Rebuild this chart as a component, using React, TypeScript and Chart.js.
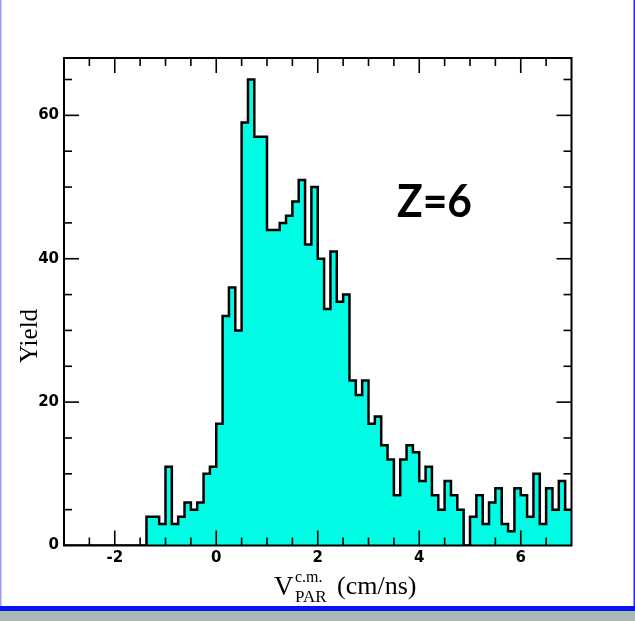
import React, { useEffect, useRef } from 'react';
import { Chart, registerables } from 'chart.js';

Chart.register(...registerables);

// Binning of the parallel c.m. velocity (cm/ns)
const binLow = -3;
const binHigh = 7;
const binWidth = 0.125;

// Counts per bin, V = -3 .. 7 in steps of 0.125
const yieldCounts = [
  0, 0, 0, 0, 0, 0, 0, 0, 0, 0, 0, 0, 0, // -3.000 .. -1.500
  4, 4, 3, 11, 3, 4, 6, 5, 6, 10, 11, // -1.375 .. -0.125
  17, 32, 36, 30, 59, 65, 57, 57, // 0.000 .. 0.875
  44, 44, 45, 46, 48, 51, 42, 50, // 1.000 .. 1.875
  40, 33, 41, 34, 35, 23, 21, 23, // 2.000 .. 2.875
  17, 18, 14, 12, 7, 12, 14, 13, // 3.000 .. 3.875
  9, 11, 7, 5, 9, 7, 5, 0, // 4.000 .. 4.875
  4, 7, 3, 6, 8, 3, 2, 8, // 5.000 .. 5.875
  7, 4, 10, 3, 8, 5, 9, 5, // 6.000 .. 6.875
];

// Axis ticks
const xTickLabels = [-2, 0, 2, 4, 6];
const yTickLabels = [0, 20, 40, 60];
const yMax = 68;
const xMinorStep = 0.5;
const yMinorStep = 5;

// Texts
const yTitle = 'Yield';
const xTitleMain = 'V';
const xTitleSup = 'c.m.';
const xTitleSub = 'PAR';
const xTitleUnit = '(cm/ns)';
const tagText = 'Z=6';

const FILL = 'rgb(0, 252, 228)';
const TICK_FONT = { family: '"DejaVu Sans", sans-serif', weight: 'bold' as const, size: 15 };
const SERIF = '"Liberation Serif", "Times New Roman", serif';

const decor = {
  id: 'decor',
  beforeDraw(chart: any) {
    const { ctx, width, height } = chart;
    ctx.save();
    ctx.fillStyle = '#ffffff';
    ctx.fillRect(0, 0, width, height);
    // slide frame: thin side borders, blue rule and grey footer
    ctx.fillStyle = '#9c9eff';
    ctx.fillRect(0, 0, 1.5, 606);
    ctx.fillStyle = '#2323ff';
    ctx.fillRect(width - 1.5, 0, 1.5, 606);
    ctx.fillStyle = '#0b12f2';
    ctx.fillRect(0, 606, width, 5);
    ctx.fillStyle = '#a8b8b2';
    ctx.fillRect(0, 611, width, height - 611);
    ctx.restore();
  },
  afterDatasetsDraw(chart: any) {
    const { ctx } = chart;
    const xs = chart.scales.x;
    const ys = chart.scales.y;
    const { left, right, top, bottom } = chart.chartArea;
    const seg = (x1: number, y1: number, x2: number, y2: number) => {
      ctx.beginPath();
      ctx.moveTo(x1, y1);
      ctx.lineTo(x2, y2);
      ctx.stroke();
    };
    ctx.save();
    ctx.strokeStyle = '#000';
    ctx.lineWidth = 1.6;
    const nx = Math.round((binHigh - binLow) / xMinorStep);
    for (let i = 1; i < nx; i++) {
      const v = binLow + i * xMinorStep;
      const len = xTickLabels.includes(v) ? 15 : 8;
      const px = xs.getPixelForValue(v);
      seg(px, bottom, px, bottom - len);
      seg(px, top, px, top + len);
    }
    const ny = Math.floor(yMax / yMinorStep);
    for (let i = 1; i <= ny; i++) {
      const v = i * yMinorStep;
      if (v >= yMax) continue;
      const len = yTickLabels.includes(v) ? 15 : 8;
      const py = ys.getPixelForValue(v);
      seg(left, py, left + len, py);
      seg(right, py, right - len, py);
    }
    ctx.lineWidth = 2;
    ctx.strokeRect(left, top, right - left, bottom - top);
    ctx.restore();
  },
  afterDraw(chart: any) {
    const { ctx } = chart;
    ctx.save();
    ctx.fillStyle = '#000';
    ctx.textBaseline = 'alphabetic';

    // y-axis title
    ctx.save();
    ctx.translate(37, 336);
    ctx.rotate(-Math.PI / 2);
    ctx.textAlign = 'center';
    ctx.font = `25px ${SERIF}`;
    ctx.fillText(yTitle, 0, 0);
    ctx.restore();

    // x-axis title with super- and subscript
    ctx.textAlign = 'left';
    ctx.font = `27px ${SERIF}`;
    ctx.fillText(xTitleMain, 274, 595);
    ctx.font = `16px ${SERIF}`;
    ctx.fillText(xTitleSup, 295, 582);
    ctx.font = `17px ${SERIF}`;
    ctx.fillText(xTitleSub, 295, 602);
    ctx.font = `26px ${SERIF}`;
    ctx.fillText(xTitleUnit, 337, 594);

    // charge tag
    ctx.font = '700 46px Lato, "Open Sans", sans-serif';
    const w = ctx.measureText(tagText).width;
    ctx.translate(397, 217);
    ctx.scale(75 / w, 1);
    ctx.fillText(tagText, 0, 0);
    ctx.restore();
  },
};

export default function App() {
  const canvasRef = useRef<HTMLCanvasElement | null>(null);

  useEffect(() => {
    const canvas = canvasRef.current;
    if (!canvas) return;
    const points = yieldCounts.map((c, i) => ({ x: binLow + i * binWidth, y: c }));
    points.push({ x: binHigh, y: yieldCounts[yieldCounts.length - 1] });

    const chart = new Chart(canvas, {
      type: 'line',
      data: {
        datasets: [
          {
            data: points,
            stepped: 'before',
            fill: 'origin',
            backgroundColor: FILL,
            borderColor: '#000',
            borderWidth: 2.5,
            pointRadius: 0,
            tension: 0,
          },
        ],
      },
      options: {
        responsive: false,
        animation: false,
        devicePixelRatio: 1,
        events: [],
        layout: { padding: { top: 58, right: 63.5, bottom: 0, left: 0 } },
        plugins: {
          legend: { display: false },
          tooltip: { enabled: false },
          title: { display: false },
        },
        scales: {
          x: {
            type: 'linear',
            min: binLow,
            max: binHigh,
            grid: { display: false, drawTicks: false },
            border: { display: false },
            afterBuildTicks: (s: any) => {
              s.ticks = xTickLabels.map((v) => ({ value: v }));
            },
            afterFit: (s: any) => {
              s.height = 75.5;
            },
            ticks: {
              font: TICK_FONT,
              color: '#000',
              padding: 4,
              maxRotation: 0,
              autoSkip: false,
              callback: (v: any) => String(v),
            },
          },
          y: {
            type: 'linear',
            min: 0,
            max: yMax,
            grid: { display: false, drawTicks: false },
            border: { display: false },
            afterBuildTicks: (s: any) => {
              s.ticks = yTickLabels.map((v) => ({ value: v }));
            },
            afterFit: (s: any) => {
              s.width = 64;
            },
            ticks: {
              font: TICK_FONT,
              color: '#000',
              padding: 5,
              autoSkip: false,
              callback: (v: any) => String(v),
            },
          },
        },
      },
      plugins: [decor],
    });
    return () => chart.destroy();
  }, []);

  return (
    <div style={{ position: 'fixed', left: 0, top: 0, width: 635, height: 621 }}>
      <canvas ref={canvasRef} width={635} height={621} style={{ display: 'block' }} />
    </div>
  );
}
